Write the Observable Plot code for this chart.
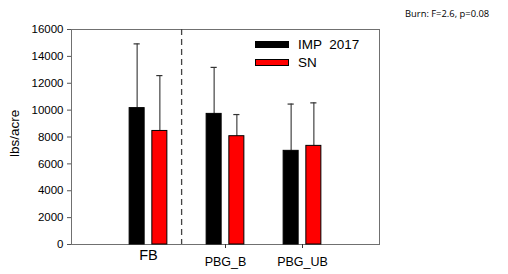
<!DOCTYPE html>
<html><head><meta charset="utf-8">
<script src="https://cdn.jsdelivr.net/npm/d3@7"></script>
<script src="https://cdn.jsdelivr.net/npm/@observablehq/plot@0.6"></script>
<style>
body{margin:0;background:#fff;font-family:"Liberation Sans",Arial,sans-serif;}
#wrap{position:relative;width:508px;height:274px;}
.leg{position:absolute;display:flex;align-items:center;font-size:13.5px;color:#000;}
.sw{width:34px;height:7px;border:1px solid #000;margin-right:9px;box-sizing:border-box;}
#note{position:absolute;left:405px;top:7px;font-size:9.4px;font-family:"Open Sans",sans-serif;color:#000;white-space:nowrap;}
</style></head>
<body><div id="wrap"></div>
<script>
const categories = ["FB", "PBG_B", "PBG_UB"];
const series = ["IMP  2017", "SN"];
const colors = ["#000000", "#ff0000"];
const imp2017 = [10150, 9720, 6970];
const imp2017Err = [14930, 13180, 10450];
const sn = [8450, 8060, 7340];
const snErr = [12570, 9670, 10540];
const yTicks = [0, 2000, 4000, 6000, 8000, 10000, 12000, 14000, 16000];
const note = "Burn: F=2.6, p=0.08";

const data = [];
categories.forEach((c, i) => {
  data.push({cat: c, pos: i + 1, s: 0, v: imp2017[i], e: imp2017Err[i]});
  data.push({cat: c, pos: i + 1, s: 1, v: sn[i], e: snErr[i]});
});
const inner = 0.05, outer = 0.245, mid = (inner + outer) / 2, cap = 0.04;
const sgn = d => d.s === 0 ? -1 : 1;

const chart = Plot.plot({
  width: 508, height: 274,
  marginLeft: 71, marginRight: 129, marginTop: 29, marginBottom: 30,
  style: {fontFamily: "Liberation Sans, Arial, sans-serif", background: "#fff"},
  x: {domain: [0, 4]},
  y: {domain: [0, 16000]},
  marks: [
    Plot.frame({stroke: "#707070", strokeWidth: 1}),
    Plot.ruleX([1.43], {stroke: "#444", strokeDasharray: "6,4", strokeWidth: 1.3}),
    Plot.ruleX(data, {x: d => d.pos + sgn(d) * mid, y1: "v", y2: "e", stroke: "#444", strokeWidth: 1.2}),
    Plot.ruleY(data, {y: "e", x1: d => d.pos + sgn(d) * mid - cap, x2: d => d.pos + sgn(d) * mid + cap, stroke: "#333", strokeWidth: 1.2}),
    Plot.rectY(data, {
      x1: d => d.pos + sgn(d) * inner, x2: d => d.pos + sgn(d) * outer,
      y1: 0, y2: "v", fill: d => colors[d.s], stroke: "#000", strokeWidth: 1
    }),
    Plot.axisY({ticks: yTicks, tickSize: 4, tickPadding: 4, fontSize: 11.5, stroke: "#555",
      tickFormat: d => String(d), label: null}),
    Plot.text(["lbs/acre"], {frameAnchor: "left", dx: -57, dy: 20, rotate: -90, fontSize: 13.5, text: d => d}),
    Plot.axisX({ticks: [2, 3], tickSize: 4, tickPadding: 9, fontSize: 12.5, stroke: "#333",
      tickFormat: d => categories[d - 1], label: null}),
    Plot.text([categories[0]], {x: 1, frameAnchor: "bottom", dy: 15, fontSize: 14.5, text: d => d})
  ]
});
const wrap = document.getElementById("wrap");
wrap.appendChild(chart);
series.forEach((s, i) => {
  const d = document.createElement("div");
  d.className = "leg";
  d.style.left = "255px";
  d.style.top = (37 + i * 18) + "px";
  d.innerHTML = `<div class="sw" style="background:${colors[i]}"></div><span style="white-space:pre">${s}</span>`;
  wrap.appendChild(d);
});
const n = document.createElement("div");
n.id = "note"; n.textContent = note; wrap.appendChild(n);
</script></body></html>
